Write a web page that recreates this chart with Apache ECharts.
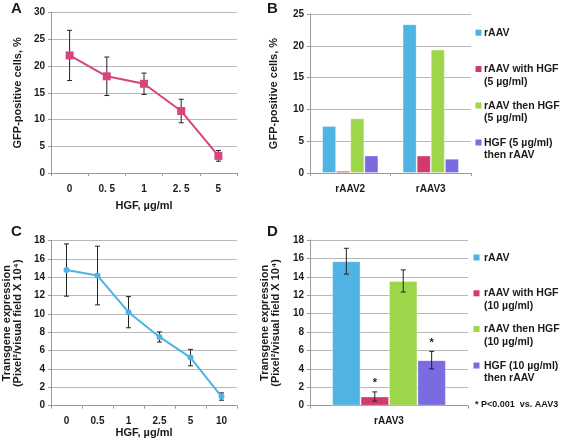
<!DOCTYPE html>
<html><head><meta charset="utf-8">
<script src="https://cdn.jsdelivr.net/npm/echarts@6/dist/echarts.min.js"></script>
<style>html,body{margin:0;padding:0;background:#fff}#c{width:567px;height:443px}</style>
</head><body><div id="c"></div>
<script>
// Panel A
const catsA = ['0', '0. 5', '1', '2. 5', '5'];
const valsA = [22.0, 18.1, 16.7, 11.6, 3.2];
const errA = [4.7, 3.6, 2.0, 2.2, 1.0];
// Panel B
const catsB = ['rAAV2', 'rAAV3'];
const namesB = ['rAAV', 'rAAV with HGF\n(5 µg/ml)', 'rAAV then HGF\n(5 µg/ml)', 'HGF (5 µg/ml)\nthen rAAV'];
const bRaav = [7.4, 23.4];
const bWith = [0.35, 2.75];
const bThen = [8.6, 19.4];
const bHgfFirst = [2.75, 2.25];
// Panel C
const catsC = ['0', '0.5', '1', '2.5', '5', '10'];
const valsC = [14.8, 14.2, 10.2, 7.5, 5.25, 1.0];
const errC = [2.85, 3.2, 1.7, 0.55, 0.9, 0.4];
// Panel D
const catsD = ['rAAV3'];
const namesD = ['rAAV ', 'rAAV with HGF\n(10 µg/ml)', 'rAAV then HGF\n(10 µg/ml)', 'HGF (10 µg/ml)\nthen rAAV'];
const dVals = [15.7, 1.0, 13.55, 4.95];
const dErr = [1.4, 0.5, 1.2, 0.95];
const dStar = [false, true, false, true];

const colors = ['#4fb3e3', '#d2396f', '#9dd64a', '#7a6be0'];
const lineA = '#d6457d', lineC = '#4db3e3';
const FONT = 'Liberation Sans, Arial, sans-serif';
const txt = '#1a1a1a';
const gridC = '#b8b8b8';

const chart = echarts.init(document.getElementById('c'), null, {renderer: 'canvas'});

function yAx(gi, max, interval, name, nameGap) {
  return {
    gridIndex: gi, type: 'value', min: 0, max: max, interval: interval,
    name: name, nameLocation: 'middle', nameRotate: 90, nameGap: nameGap,
    nameTextStyle: {fontFamily: FONT, fontWeight: 'bold', fontSize: 11, color: txt, lineHeight: 11},
    axisLine: {show: true, lineStyle: {color: '#999'}},
    axisTick: {show: true, length: 3, lineStyle: {color: '#999'}},
    axisLabel: {fontFamily: FONT, fontWeight: 'bold', fontSize: 10, color: txt, margin: 6},
    splitLine: {show: true, lineStyle: {color: gridC, width: 1}}
  };
}
function xAx(gi, data, name, nameGap) {
  return {
    gridIndex: gi, type: 'category', data: data, boundaryGap: true,
    name: name, nameLocation: 'middle', nameGap: nameGap,
    nameTextStyle: {fontFamily: FONT, fontWeight: 'bold', fontSize: 11, color: txt},
    axisLine: {show: true, lineStyle: {color: '#999'}},
    axisTick: {show: true, length: 3, alignWithLabel: false, lineStyle: {color: '#999'}},
    axisLabel: {fontFamily: FONT, fontWeight: 'bold', fontSize: 10, color: txt, margin: 11, interval: 0}
  };
}

// error bar renderer; data item: [catIndex, value, err, barIdx, nBars, catGap, star]
function errRender(params, api) {
  const ci = api.value(0), v = api.value(1), e = api.value(2);
  const bi = api.value(3), nb = api.value(4), gap = api.value(5), star = api.value(6);
  const center = api.coord([ci, v]);
  let x = center[0];
  if (nb > 0) {
    const band = api.size([1, 0])[0];
    const total = band * (1 - gap);
    const w = total / nb;
    x = center[0] - total / 2 + w * (bi + 0.5);
  }
  const top = api.coord([ci, v + e])[1];
  const bot = api.coord([ci, v - e])[1];
  const cap = 2.5;
  const st = {stroke: '#222', lineWidth: 1};
  const children = [
    {type: 'line', shape: {x1: x, y1: top, x2: x, y2: bot}, style: st},
    {type: 'line', shape: {x1: x - cap, y1: top, x2: x + cap, y2: top}, style: st},
    {type: 'line', shape: {x1: x - cap, y1: bot, x2: x + cap, y2: bot}, style: st}
  ];
  if (star) {
    children.push({type: 'text', style: {text: '*', x: x, y: top - 3, textAlign: 'center', textVerticalAlign: 'bottom', fontSize: 11, fontWeight: 'bold', fontFamily: FONT, fill: '#222'}});
  }
  return {type: 'group', children: children};
}

const series = [];
// A
series.push({type: 'custom', xAxisIndex: 0, yAxisIndex: 0, renderItem: errRender, z: 2,
  data: valsA.map((v, i) => [i, v, errA[i], 0, 0, 0, 0])});
series.push({type: 'line', name: 'A', xAxisIndex: 0, yAxisIndex: 0, data: valsA, z: 5,
  symbol: 'rect', symbolSize: 8, lineStyle: {color: lineA, width: 2}, itemStyle: {color: lineA}});
// B
const bData = [bRaav, bWith, bThen, bHgfFirst];
bData.forEach((d, k) => {
  series.push({type: 'bar', name: namesB[k], xAxisIndex: 1, yAxisIndex: 1, data: d,
    barGap: '0%', barCategoryGap: '30%',
    itemStyle: {color: colors[k], borderColor: 'rgba(255,255,255,0.35)', borderWidth: 1}});
});
// C
series.push({type: 'custom', xAxisIndex: 2, yAxisIndex: 2, renderItem: errRender, z: 2,
  data: valsC.map((v, i) => [i, v, errC[i], 0, 0, 0, 0])});
series.push({type: 'line', name: 'C', xAxisIndex: 2, yAxisIndex: 2, data: valsC, z: 5,
  symbol: 'circle', symbolSize: 6, lineStyle: {color: lineC, width: 2}, itemStyle: {color: lineC}});
// D
dVals.forEach((v, k) => {
  series.push({type: 'bar', name: namesD[k], xAxisIndex: 3, yAxisIndex: 3, data: [v],
    barGap: '0%', barCategoryGap: '28%',
    itemStyle: {color: colors[k], borderColor: 'rgba(255,255,255,0.35)', borderWidth: 1}});
});
series.push({type: 'custom', xAxisIndex: 3, yAxisIndex: 3, renderItem: errRender, z: 5,
  data: dVals.map((v, k) => [0, v, dErr[k], k, 4, 0.28, dStar[k] ? 1 : 0])});

// Legends as graphic elements (square aligned with first text line)
function legendItems(names, sqX, txtX, ys) {
  const els = [];
  names.forEach((n, k) => {
    els.push({type: 'rect', shape: {x: sqX - 3, y: ys[k] - 3, width: 6, height: 6}, style: {fill: colors[k]}});
    els.push({type: 'text', style: {text: n.trim(), x: txtX, y: ys[k] - 6, fontFamily: FONT, fontWeight: 'bold', fontSize: 10.5, lineHeight: 12.5, fill: txt}});
  });
  return els;
}
const graphic = [].concat(
  legendItems(namesB, 478.5, 484, [32.7, 69, 105.5, 142.5]),
  legendItems(namesD, 476.5, 484, [257.5, 293.3, 329, 365.5]),
  [
    {type: 'text', style: {text: 'A', x: 11, y: 1, fontFamily: FONT, fontWeight: 'bold', fontSize: 15, fill: txt}},
    {type: 'text', style: {text: 'B', x: 267, y: 1, fontFamily: FONT, fontWeight: 'bold', fontSize: 15, fill: txt}},
    {type: 'text', style: {text: 'C', x: 11, y: 224, fontFamily: FONT, fontWeight: 'bold', fontSize: 15, fill: txt}},
    {type: 'text', style: {text: 'D', x: 267, y: 224, fontFamily: FONT, fontWeight: 'bold', fontSize: 15, fill: txt}},
    {type: 'text', style: {text: '* P<0.001  vs. AAV3', x: 475, y: 400, fontFamily: FONT, fontWeight: 'bold', fontSize: 9, fill: txt}}
  ]
);

const yNameCD = 'Transgene expression\n(Pixel²/visual field X 10⁴)';
chart.setOption({
  animation: false,
  textStyle: {fontFamily: FONT},
  grid: [
    {left: 51, top: 12.7, width: 186, height: 160.3},
    {left: 310, top: 14, width: 161, height: 159},
    {left: 49.3, top: 240.7, width: 187.7, height: 165},
    {left: 310, top: 240, width: 158, height: 165.7}
  ],
  xAxis: [
    xAx(0, catsA, 'HGF, µg/ml', 27),
    xAx(1, catsB, '', 20),
    xAx(2, catsC, 'HGF, µg/ml', 20),
    xAx(3, catsD, '', 20)
  ],
  yAxis: [
    yAx(0, 30, 5, 'GFP-positive cells, %', 28),
    yAx(1, 25, 5, 'GFP-positive cells, %', 31),
    yAx(2, 18, 2, yNameCD, 28),
    yAx(3, 18, 2, yNameCD, 29)
  ],
  series: series,
  graphic: graphic
});
</script></body></html>
